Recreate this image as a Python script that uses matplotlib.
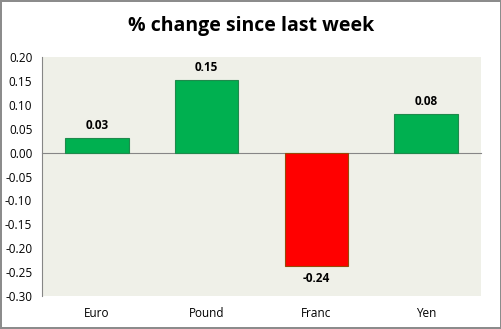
import matplotlib
matplotlib.use('Agg')
import matplotlib.pyplot as plt
from matplotlib.ticker import FormatStrFormatter

categories = ['Euro', 'Pound', 'Franc', 'Yen']
changes = [0.031, 0.152, -0.238, 0.081]
yticks = [0.20, 0.15, 0.10, 0.05, 0.00, -0.05, -0.10, -0.15, -0.20, -0.25, -0.30]

plt.rcParams['font.family'] = ['Open Sans', 'DejaVu Sans']

fig = plt.figure(figsize=(5.02, 3.29), dpi=100)
fig.patch.set_facecolor('white')
fig.patch.set_edgecolor('#8c8c8c')
fig.patch.set_linewidth(1.5)

ax = fig.add_axes([42/502, 1 - 296/329, 439/502, 239/329])
ax.set_facecolor('#eff0e8')

colors = ['#00b050' if v >= 0 else '#ff0000' for v in changes]
edges = ['#1f8a4c' if v >= 0 else '#984807' for v in changes]
x = range(len(categories))
ax.bar(x, changes, width=0.58, color=colors, edgecolor=edges, linewidth=0.8, zorder=3)

for i, v in enumerate(changes):
    if v >= 0:
        ax.text(i, v + 0.012, f'{v:.2f}', ha='center', va='bottom', fontsize=8.5, fontweight='bold')
    else:
        ax.text(i, v - 0.012, f'{v:.2f}', ha='center', va='top', fontsize=8.5, fontweight='bold')

ax.set_xlim(-0.5, len(categories) - 0.5)
ax.set_ylim(-0.30, 0.20)
ax.set_yticks(yticks)
ax.yaxis.set_major_formatter(FormatStrFormatter('%.2f'))
ax.set_xticks([])

for s in ['top', 'right']:
    ax.spines[s].set_visible(False)
ax.spines['left'].set_color('#868686')
ax.spines['bottom'].set_position(('data', 0))
ax.spines['bottom'].set_color('#868686')
ax.tick_params(axis='y', length=0, labelsize=8.5, pad=7)

# category labels below the plot area
for i, c in enumerate(categories):
    ax.text(i, -0.30 - 0.022, c, ha='center', va='top', fontsize=8.5)

fig.text(0.5, 1 - 26/329, '% change since last week', ha='center', va='center',
         fontsize=14, fontweight='bold')

fig.savefig('out.png', dpi=100, facecolor=fig.get_facecolor(), edgecolor=fig.get_edgecolor())
